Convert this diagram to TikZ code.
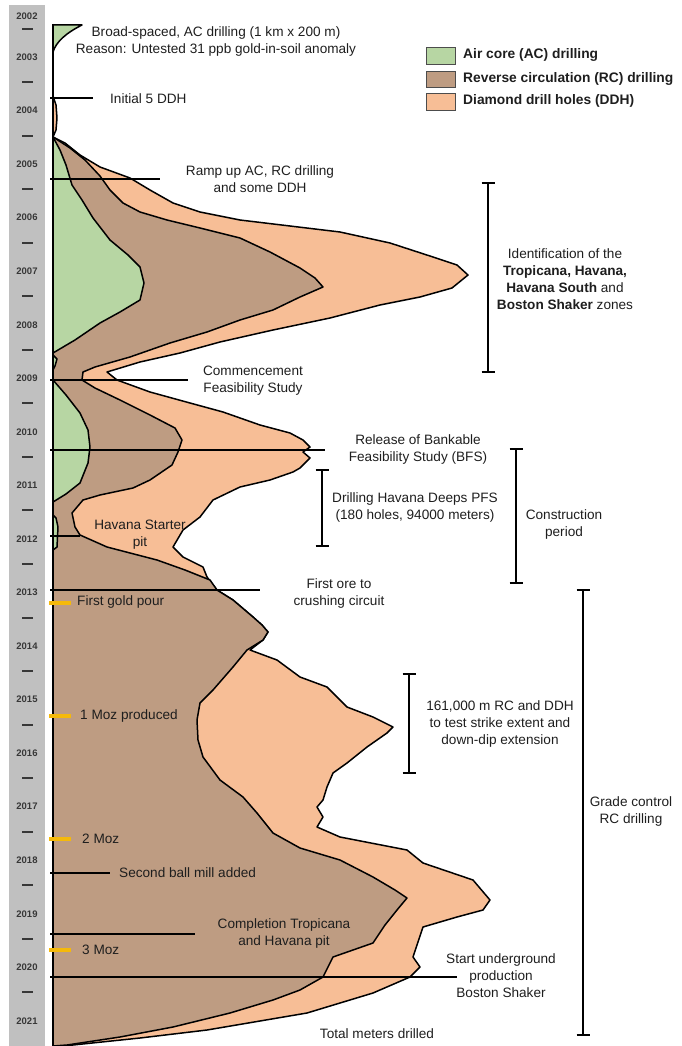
\documentclass[tikz,border=0pt]{standalone}
\usepackage{fontspec}
\setmainfont{Liberation Sans}
\definecolor{acgreen}{RGB}{183,214,163}
\definecolor{rcbrown}{RGB}{190,156,130}
\definecolor{ddhpeach}{RGB}{247,190,150}
\definecolor{bargray}{RGB}{192,192,192}
\definecolor{goldmark}{RGB}{245,185,10}
\definecolor{yeartext}{RGB}{55,55,55}
\definecolor{labeltext}{RGB}{30,30,30}
\begin{document}
\begin{tikzpicture}[x=1pt,y=-1pt,
  outline/.style={draw=black,line width=1.5pt,line join=round},
  yearlbl/.style={font=\fontsize{9.5}{10}\selectfont\bfseries,text=yeartext,inner sep=0pt},
  yeardash/.style={draw=yeartext,line width=2pt},
  eventline/.style={draw=black,line width=1.3pt},
  goldtick/.style={draw=goldmark,line width=4.5pt},
  bracketline/.style={draw=black,line width=2.2pt},
  lbl/.style={font=\fontsize{13.6}{17}\selectfont,text=labeltext,inner sep=0pt,align=center},
  leglbl/.style={font=\fontsize{13.8}{15}\selectfont\bfseries,text=labeltext,inner sep=0pt,anchor=west},
  legbox/.style={draw=black!70,line width=0.8pt}]
\useasboundingbox (0,0) rectangle (682,1046);

% year scale
\fill[bargray] (9,5) rectangle (45,1046);
\node[yearlbl] (y2002) at (27,16) {2002};
\draw[yeardash] (22,29) -- (33,29);
\foreach \yr [count=\i from 0] in {2003,...,2021} {
  \node[yearlbl] (y\yr) at (27,{57+\i*53.55}) {\yr};
}
\foreach \i in {0,...,17} {
  \pgfmathsetmacro{\dy}{round(82+\i*53.55)}
  \draw[yeardash] (22,\dy) -- (33,\dy);
}

% diamond drill holes (outer envelope)
\draw[outline,fill=ddhpeach] plot coordinates {
 (53,96) (56,105) (57,118) (56,130) (53,137)
 (65,143) (80,155) (100,167) (130,178) (150,190) (173,203) (200,212)
 (240,220) (290,226) (340,232) (390,243) (433,257) (457,265) (468,275)
 (452,288) (420,297) (380,305) (330,318) (273,330) (220,342) (180,353)
 (140,362) (107,372) (117,380) (150,392) (190,403) (223,412) (260,425)
 (290,433) (303,440) (310,447) (303,452) (310,458) (300,468) (293,472)
 (270,480) (240,487) (213,500) (200,517) (183,530) (173,547) (183,557)
 (203,567) (207,577) (217,590) (233,600) (253,617) (262,625) (268,632)
 (263,640) (250,650) (277,660) (300,677) (327,687) (347,707) (373,717)
 (393,727) (387,733) (367,747) (347,763) (333,773) (327,787) (323,800)
 (317,807) (323,817) (317,827) (340,837) (407,850) (423,863) (473,880)
 (490,900) (483,910) (457,917) (423,927) (413,957) (420,967) (410,977)
 (373,993) (307,1013) (207,1030) (140,1038) (73,1045) (53,1046)} -- cycle;

% reverse circulation
\draw[outline,fill=rcbrown] plot coordinates {
 (53,137) (70,148) (85,160) (100,176) (110,190) (123,203) (140,212)
 (167,220) (200,228) (240,238) (270,252) (300,268) (315,278) (323,287)
 (300,297) (273,310) (240,320) (207,332) (170,343) (130,357) (95,367)
 (83,372) (82,380) (95,388) (120,400) (150,415) (175,428) (182,440)
 (178,452) (172,465) (150,480) (133,488) (100,495) (83,500) (72,513)
 (75,527) (80,535) (107,547) (157,560) (185,570) (210,580) (217,590)
 (233,600) (253,617) (262,625) (268,632) (263,640) (247,650) (233,667)
 (213,690) (200,703) (197,720) (198,740) (203,757) (220,780) (243,797)
 (257,813) (273,833) (300,848) (340,860) (373,877) (395,890) (407,898)
 (397,910) (385,925) (373,943) (333,957) (323,977) (300,990) (273,1000)
 (230,1013) (173,1027) (120,1037) (67,1045) (53,1046)} -- cycle;

% air core
\draw[outline,fill=acgreen] (53,25) -- (82,25) .. controls (66,33) and (56,42) .. (53,52) -- cycle;
\draw[outline,fill=acgreen] plot coordinates {
 (53,137) (60,150) (66,165) (72,185) (82,200) (93,218) (110,240)
 (128,255) (140,267) (144,283) (140,300) (120,312) (100,323) (75,340)
 (53,353)} -- cycle;
\draw[outline,fill=acgreen] plot coordinates {
 (53,355) (57,359) (55,366) (53,370)} -- cycle;
\draw[outline,fill=acgreen] plot coordinates {
 (53,380) (66,395) (80,413) (88,430) (90,447) (88,463) (80,483)
 (66,494) (53,502)} -- cycle;
\draw[outline,fill=acgreen] plot coordinates {
 (53,515) (56,518) (58,527) (57,547) (53,550)} -- cycle;

% depth axis
\draw[draw=black,line width=2pt] (53,24) coordinate (axtop) -- (53,1046) coordinate (axbot);

% event lines
\coordinate (e1) at (93,98);   \draw[eventline] (50,98) -- (e1);
\coordinate (e2) at (160,179); \draw[eventline] (50,179) -- (e2);
\coordinate (e3) at (188,380); \draw[eventline] (50,380) -- (e3);
\coordinate (e4) at (325,450); \draw[eventline] (50,450) -- (e4);
\coordinate (e5) at (80,536);  \draw[eventline] (50,536) -- (e5);
\coordinate (e6) at (260,590); \draw[eventline] (50,590) -- (e6);
\coordinate (e7) at (110,873); \draw[eventline] (50,873) -- (e7);
\coordinate (e8) at (195,934); \draw[eventline] (50,934) -- (e8);
\coordinate (e9) at (457,977); \draw[eventline] (50,977) -- (e9);

% gold production ticks
\foreach \gy in {603,716,839,950} {
  \draw[goldtick] (49,\gy) -- (71,\gy);
}

% period brackets
\foreach \bx/\ba/\bb in {488/183/372, 322/470/546, 516/449/583, 409/674/773, 583/590/1035} {
  \draw[bracketline] (\bx,\ba) -- (\bx,\bb);
  \draw[bracketline] (\bx-6.5,\ba) -- (\bx+6.5,\ba);
  \draw[bracketline] (\bx-6.5,\bb) -- (\bx+6.5,\bb);
}

% legend
\draw[legbox,fill=acgreen] (426,47) rectangle (455,64);
\draw[legbox,fill=rcbrown] (426,71) rectangle (455,87);
\draw[legbox,fill=ddhpeach] (426,93) rectangle (455,110);
\node[leglbl] (lg1) at (463,55) {Air core (AC) drilling};
\node[leglbl] (lg2) at (463,79) {Reverse circulation (RC) drilling};
\node[leglbl] (lg3) at (463,101) {Diamond drill holes (DDH)};

% annotations
\node[lbl] (tbroad) at (216,41.5) {Broad-spaced, AC drilling (1 km x 200 m)\\Reason: Untested 31 ppb gold-in-soil anomaly};
\node[lbl,anchor=west] (tinit) at (110,99) {Initial 5 DDH};
\node[lbl] (tramp) at (260,179.5) {Ramp up AC, RC drilling\\and some DDH};
\node[lbl] (tident) at (565,279) {Identification of the\\\textbf{Tropicana, Havana,}\\\textbf{Havana South} and\\\textbf{Boston Shaker} zones};
\node[lbl] (tcomm) at (253,380.5) {Commencement\\Feasibility Study};
\node[lbl] (tbfs) at (418,449.5) {Release of Bankable\\Feasibility Study (BFS)};
\node[lbl] (tdeeps) at (415,507.5) {Drilling Havana Deeps PFS\\(180 holes, 94000 meters)};
\node[lbl] (tconstr) at (564,524.5) {Construction\\period};
\node[lbl] (tstarter) at (140,534.5) {Havana Starter\\pit};
\node[lbl] (tore) at (339,593.5) {First ore to\\crushing circuit};
\node[lbl,anchor=west] (tpour) at (77,602) {First gold pour};
\node[lbl,anchor=west] (tmoz1) at (80,716) {1 Moz produced};
\node[lbl] (tstrike) at (500,724) {161,000 m RC and DDH\\to test strike extent and\\down-dip extension};
\node[lbl] (tgrade) at (631,811.5) {Grade control\\RC drilling};
\node[lbl,anchor=west] (tmoz2) at (82,839) {2 Moz};
\node[lbl,anchor=west] (tball) at (119,873) {Second ball mill added};
\node[lbl] (tcompl) at (284,933.5) {Completion Tropicana\\and Havana pit};
\node[lbl,anchor=west] (tmoz3) at (82,950) {3 Moz};
\node[lbl] (tunder) at (501,976) {Start underground\\production\\Boston Shaker};
\node[lbl] (ttotal) at (377,1034) {Total meters drilled};
\end{tikzpicture}
\end{document}
